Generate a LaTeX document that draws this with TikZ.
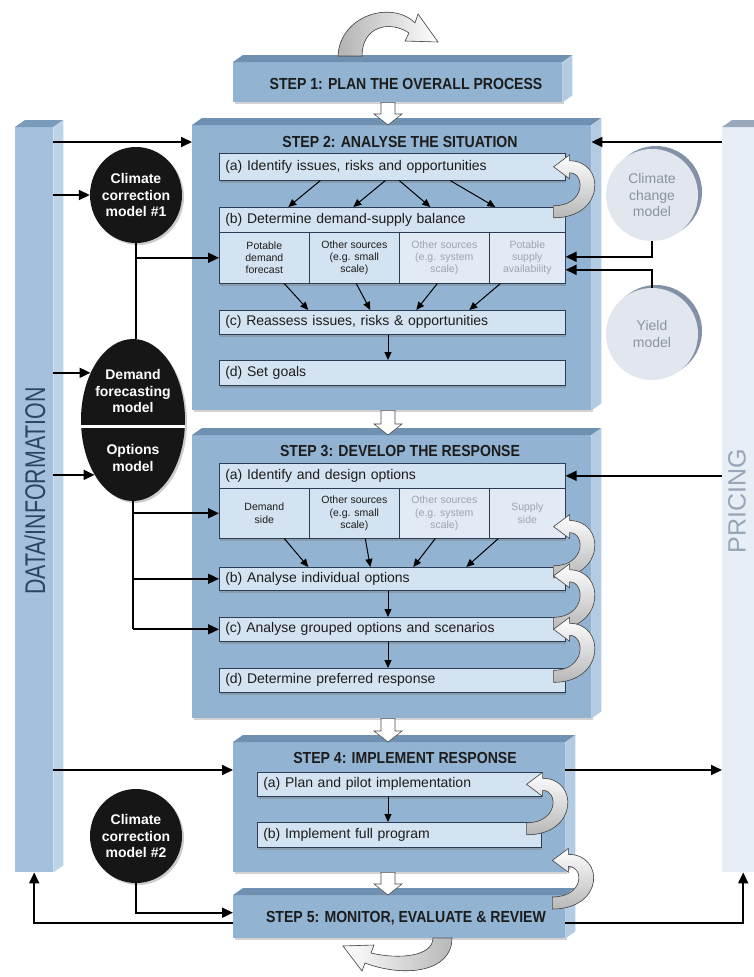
\documentclass[tikz,border=0pt]{standalone}
\usepackage{fontspec}
\setmainfont{Liberation Sans}
\newfontfamily\narrowsans[FakeStretch=0.88]{Liberation Sans}
\newfontfamily\barsans[FakeStretch=0.75]{Liberation Sans}
\usetikzlibrary{arrows.meta,calc,shadows,shapes.geometric}

\definecolor{stepfill}{HTML}{92B3D2}
\definecolor{steptop}{HTML}{6F90B0}
\definecolor{stepside}{HTML}{B3CCE3}
\definecolor{datafill}{HTML}{A3C1DD}
\definecolor{datatop}{HTML}{7B9BBB}
\definecolor{dataside}{HTML}{BDD3E8}
\definecolor{datatext}{HTML}{2E4466}
\definecolor{pricefill}{HTML}{E8EEF6}
\definecolor{pricetop}{HTML}{9AA8BC}
\definecolor{pricetext}{HTML}{98A5B6}
\definecolor{taskfill}{HTML}{D4E3F1}
\definecolor{taskline}{HTML}{2B3D55}
\definecolor{fadedfill}{HTML}{E2EBF5}
\definecolor{fadedtext}{HTML}{9DA6B0}
\definecolor{modelfill}{HTML}{161616}
\definecolor{extfill}{HTML}{E2E7EF}
\definecolor{exttext}{HTML}{8A939F}
\definecolor{crescent}{HTML}{8391A7}
\definecolor{titletext}{HTML}{1C1C1C}

\tikzset{
  stepface/.style={fill=stepfill, inner sep=0pt, anchor=north west,
    drop shadow={shadow xshift=2pt, shadow yshift=-2pt, opacity=.35}},
  barface/.style={inner sep=0pt, anchor=north west, minimum height=745pt},
  steptitle/.style={font=\fontsize{16}{18}\narrowsans\bfseries, text=titletext, inner sep=0pt},
  taskbox/.style={fill=taskfill, draw=taskline, line width=0.6pt, anchor=north west,
    text width=334pt, inner xsep=6pt, inner ysep=0pt, minimum height=25pt, align=left,
    font=\fontsize{14}{16}\selectfont, text=titletext,
    drop shadow={shadow xshift=1pt, shadow yshift=-3pt, opacity=.45}},
  subbox/.style={fill=taskfill, draw=taskline, line width=0.6pt, anchor=north west,
    minimum width=#1, minimum height=50pt, inner sep=1pt, align=center,
    font=\fontsize{10.5}{12.3}\selectfont, text=titletext,
    drop shadow={shadow xshift=1pt, shadow yshift=-3pt, opacity=.45}},
  fadedsub/.style={subbox=#1, fill=fadedfill, text=fadedtext},
  model/.style={ellipse, fill=modelfill, inner sep=0pt,
    drop shadow={shadow xshift=2pt, shadow yshift=-2pt, opacity=.4}},
  modeltext/.style={text=white, font=\fontsize{14}{16.3}\selectfont\bfseries, align=center, inner sep=0pt},
  extmodel/.style={circle, fill=extfill, text=exttext, minimum size=92pt, inner sep=0pt,
    font=\fontsize{14}{16.7}\selectfont, align=center,
    general shadow={fill=crescent, shadow xshift=4pt, shadow yshift=3pt}},
  wire/.style={line width=1.8pt, draw=black},
  arr/.style={wire, -{Triangle[length=11pt,width=10pt]}},
  sarr/.style={line width=1pt, -{Triangle[length=8pt,width=7pt]}},
  blockarr/.style={fill=white, draw=black!70, line width=0.6pt},
  ribbon/.style={draw=black!70, line width=0.6pt},
  pics/loopback/.style={code={
    \filldraw[ribbon, top color=white, middle color=white, bottom color=black!28]
      (0,6) .. controls (52,6) and (52,{-#1-6}) .. (16,{-#1-6})
      -- (16,{-#1-12}) -- (0,{-#1}) -- (16,{12-#1}) -- (16,{6-#1})
      .. controls (32,{6-#1}) and (32,-6) .. (0,-6) -- cycle;
  }}
}

% top and side faces of a block
\newcommand{\bevel}[3]{%
  \fill[#2] (#1.north west) -- ++(10,-7) -- ([shift={(10,-7)}]#1.north east) -- (#1.north east) -- cycle;
  \fill[#3] (#1.north east) -- ++(10,-7) -- ([shift={(10,-7)}]#1.south east) -- (#1.south east) -- cycle;}

% white arrow pointing down from #1 to #2
\newcommand{\downblock}[2]{%
  \path #1 coordinate (db1) #2 coordinate (db2);
  \draw[blockarr] ($(db1)+(-7,0)$) -- ($(db2)+(-7,-11)$) -- ($(db2)+(-14,-11)$) -- (db2)
    -- ($(db2)+(14,-11)$) -- ($(db2)+(7,-11)$) -- ($(db1)+(7,0)$) -- cycle;}

% curled ribbon arrow from #1 (tail) up to #2 (tip)
\newcommand{\loopback}[2]{%
  \path #1; \pgfgetlastxy{\lbxa}{\lbya}%
  \path #2; \pgfgetlastxy{\lbxb}{\lbyb}%
  \pgfmathsetmacro{\loopH}{\lbyb-\lbya}%
  \path #1 pic{loopback=\loopH};}

\begin{document}
\begin{tikzpicture}[x=1pt, y=-1pt]
  \useasboundingbox[fill=white] (0,0) rectangle (754,977);

  % side bars
  \node[barface, fill=datafill, minimum width=38pt] (data) at (15,127) {};
  \bevel{data}{datatop}{dataside}
  \node[barface, fill=pricefill, minimum width=42pt] (price) at (722,127) {};
  \bevel{price}{pricetop}{pricefill}
  \node[rotate=90, font=\fontsize{28.5}{28.5}\barsans, text=datatext] (datalabel) at (35,491) {DATA/INFORMATION};
  \node[rotate=90, font=\fontsize{25}{25}\selectfont, text=pricetext] (pricelabel) at (737,501) {PRICING};

  % step blocks
  \node[stepface, minimum width=329pt, minimum height=40pt] (s1) at (233,62) {};
  \node[stepface, minimum width=399pt, minimum height=285pt] (s2) at (192,125) {};
  \node[stepface, minimum width=399pt, minimum height=283pt] (s3) at (192,435) {};
  \node[stepface, minimum width=332pt, minimum height=130pt] (s4) at (233,742) {};
  \node[stepface, minimum width=332pt, minimum height=43pt] (s5) at (233,895) {};
  \foreach \s in {s1,s2,s3,s4,s5} {\bevel{\s}{steptop}{stepside}}

  \node[steptitle] (t1) at (406,84) {STEP 1: PLAN THE OVERALL PROCESS};
  \node[steptitle] (t2) at (400,142) {STEP 2: ANALYSE THE SITUATION};
  \node[steptitle] (t3) at (400,451) {STEP 3: DEVELOP THE RESPONSE};
  \node[steptitle] (t4) at (405,758) {STEP 4: IMPLEMENT RESPONSE};
  \node[steptitle] (t5) at (406,918) {STEP 5: MONITOR, EVALUATE \& REVIEW};

  % step 2 tasks
  \node[taskbox, minimum height=27pt] (a2) at (219,153) {(a) Identify issues, risks and opportunities};
  \node[taskbox] (b2) at (219,207) {(b) Determine demand-supply balance};
  \node[subbox=90pt, minimum height=51pt] (pdf) at (219,232) {Potable\\demand\\forecast};
  \node[subbox=90pt, minimum height=51pt] (oss) at (309,232) {Other sources\\(e.g. small\\scale)};
  \node[fadedsub=90pt, minimum height=51pt] (oes) at (399,232) {Other sources\\(e.g. system\\scale)};
  \node[fadedsub=76pt, minimum height=51pt] (psa) at (489,232) {Potable\\supply\\availability};
  \node[taskbox, minimum height=24pt] (c2) at (219,310) {(c) Reassess issues, risks \& opportunities};
  \node[taskbox] (d2) at (219,360) {(d) Set goals};

  % step 3 tasks
  \node[taskbox] (a3) at (219,463) {(a) Identify and design options};
  \node[subbox=90pt] (dms) at (219,488) {Demand\\side};
  \node[subbox=90pt] (os3) at (309,488) {Other sources\\(e.g. small\\scale)};
  \node[fadedsub=90pt] (oe3) at (399,488) {Other sources\\(e.g. system\\scale)};
  \node[fadedsub=76pt] (sps) at (489,488) {Supply\\side};
  \node[taskbox, minimum height=23pt] (b3) at (219,567) {(b) Analyse individual options};
  \node[taskbox, minimum height=24pt] (c3) at (219,617) {(c) Analyse grouped options and scenarios};
  \node[taskbox, minimum height=24pt] (d3) at (219,668) {(d) Determine preferred response};

  % step 4 tasks
  \node[taskbox, text width=272pt, minimum height=24pt] (a4) at (257,772) {(a) Plan and pilot implementation};
  \node[taskbox, text width=272pt] (b4) at (257,822) {(b) Implement full program};

  % models
  \node[model, minimum width=92pt, minimum height=96pt] (ccm1) at (136,195) {};
  \node[modeltext] at (ccm1) {Climate\\correction\\model \#1};
  \node[model, minimum width=104pt, minimum height=162pt] (models) at (133,420) {};
  \draw[white, line width=3pt] ($(models.west)+(0,6)$) -- ($(models.east)+(0,6)$);
  \node[modeltext] (dfm) at (133,391) {Demand\\forecasting\\model};
  \node[modeltext] (opm) at (133,458) {Options\\model};
  \node[model, minimum width=92pt, minimum height=94pt] (ccm2) at (136,836) {};
  \node[modeltext] at (ccm2) {Climate\\correction\\model \#2};
  \node[extmodel] (ccm) at (652,195) {Climate\\change\\model};
  \node[extmodel] (yld) at (652,334) {Yield\\model};

  % flow between steps
  \coordinate (axis) at (388,0);
  \downblock{(axis |- s1.south)}{(axis |- s2.north)}
  \downblock{(axis |- s2.south)}{(axis |- s3.north)}
  \downblock{(axis |- s3.south)}{(axis |- s4.north)}
  \downblock{(axis |- s4.south)}{(axis |- s5.north)}

  % arrows inside the steps
  \foreach \a/\b in {-72/-104, -7/-39, 7/38, 58/103}
    \draw[sarr] ($(a2.south)+(\a,0)$) -- ($(b2.north)+(\b,0)$);
  \foreach \n/\a/\b in {pdf/20/-84, oss/2/-22, oes/-7/24, psa/-27/77}
    \draw[sarr] ($(\n.south)+(\a,0)$) -- ($(c2.north)+(\b,0)$);
  \foreach \n/\a/\b in {dms/20/-84, os3/11/-22, oe3/-9/21, sps/-29/74}
    \draw[sarr] ($(\n.south)+(\a,0)$) -- ($(b3.north)+(\b,0)$);
  \draw[sarr] (axis |- c2.south) -- (axis |- d2.north);
  \draw[sarr] (axis |- b3.south) -- (axis |- c3.north);
  \draw[sarr] (axis |- c3.south) -- (axis |- d3.north);
  \draw[sarr] (axis |- a4.south) -- (axis |- b4.north);

  % data side
  \coordinate (o4) at ($(s4.north east)+(0,28)$);
  \draw[arr] (data.east |- t2) -- (s2.west |- t2);
  \draw[arr] (data.east |- ccm1) -- (ccm1);
  \draw[arr] (data.east |- models.132) -- (models.132);
  \draw[arr] (data.east |- models.235) -- (models.235);
  \draw[arr] (data.east |- o4) -- (s4.west |- o4);
  \draw[wire] (ccm1.south) -- (ccm1.south |- models.north);
  \draw[arr] (ccm1.south |- pdf) -- (pdf);
  \draw[wire] (models.south) -- (models.south |- c3);
  \draw[arr] (models.south |- dms) -- (dms);
  \draw[arr] (models.south |- b3) -- (b3);
  \draw[arr] (models.south |- c3) -- (c3);
  \draw[arr] (ccm2.south) |- ($(s5.west)+(0,-4)$);
  \draw[arr] ($(s5.west)+(0,6)$) -| (data.south);

  % pricing side
  \draw[arr] (price.west |- t2) -- (s2.east |- t2);
  \draw[arr] (ccm.south) |- ($(psa.east)+(0,-1)$);
  \draw[arr] (yld.north) |- ($(psa.east)+(0,12)$);
  \draw[arr] (price.west |- a3) -- (a3);
  \draw[arr] (o4) -- (price.west |- o4);
  \draw[arr] ($(s5.east)+(0,6)$) -| (price.south);

  % feedback loops
  \loopback{($(b2.east)+(-12,-8)$)}{($(a2.east)+(-12,0)$)}
  \loopback{($(b3.east)+(-12,-7)$)}{($(sps.south east)+(-12,-12)$)}
  \loopback{($(c3.east)+(-12,-6)$)}{($(b3.east)+(-12,-3)$)}
  \loopback{($(d3.east)+(-12,-4)$)}{($(c3.east)+(-12,0)$)}
  \loopback{($(b4.east)+(-15,-6)$)}{($(a4.east)+(-15,0)$)}
  \loopback{($(s5.north east)+(-13,8)$)}{($(s4.south east)+(-13,-12)$)}

  % ribbons above step 1 and below step 5
  \filldraw[ribbon, left color=black!30, right color=white]
    (338,56) .. controls (340,15) and (392,0) .. (415,23) -- (418,14) -- (438,42)
    -- (405,41) -- (409,33) .. controls (390,20) and (362,26) .. (362,56) -- cycle;
  \filldraw[ribbon, left color=white, right color=black!28]
    (433,938) .. controls (433,956) and (400,960) .. (371,953) -- (374,945) -- (343,946)
    -- (362,971) -- (365,963) .. controls (405,978) and (452,972) .. (452,938) -- cycle;
\end{tikzpicture}
\end{document}
